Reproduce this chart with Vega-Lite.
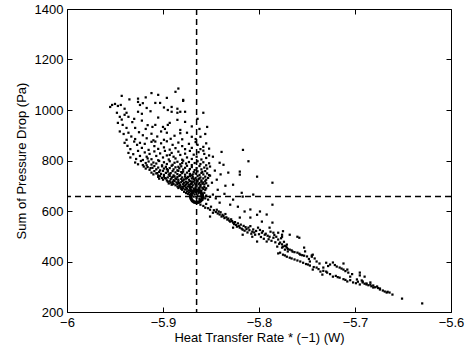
{
"$schema": "https://vega.github.io/schema/vega-lite/v6.json",
"width": 384, "height": 303,
"autosize": {"type": "none"},
"padding": {"left": 67, "top": 9, "right": 16, "bottom": 40},
"background": "white",
"config": {
  "view": {"stroke": "black", "strokeWidth": 1},
  "axis": {"domain": false, "grid": false, "tickSize": -5, "tickColor": "black", "tickWidth": 1,
    "labelColor": "black", "labelFont": "Liberation Sans", "labelFontSize": 13,
    "titleFont": "Liberation Sans", "titleFontSize": 13, "titleFontWeight": "normal", "titleColor": "black",
    "labelFlush": false, "labelPadding": 9, "labelOverlap": false}
},
"datasets": {
"pts": [
{"x":-5.943,"y":1056},{"x":-5.912,"y":1067},{"x":-5.905,"y":1060},{"x":-5.896,"y":1048},{"x":-5.887,"y":1072},{"x":-5.884,"y":1085},{"x":-5.926,"y":1045},{"x":-5.918,"y":1050},{"x":-5.879,"y":1040},{"x":-5.935,"y":1042},
{"x":-5.953,"y":1020},{"x":-5.950,"y":1024},{"x":-5.947,"y":1016},{"x":-5.944,"y":1020},{"x":-5.955,"y":1012},{"x":-5.926,"y":1032},{"x":-5.924,"y":1020},{"x":-5.921,"y":1027},{"x":-5.917,"y":1008},{"x":-5.908,"y":1028},{"x":-5.903,"y":1028},{"x":-5.899,"y":1010},{"x":-5.891,"y":1012},{"x":-5.879,"y":1036},{"x":-5.885,"y":1005},{"x":-5.940,"y":1005},
{"x":-5.948,"y":989},{"x":-5.940,"y":981},{"x":-5.938,"y":989},{"x":-5.945,"y":973},{"x":-5.936,"y":973},{"x":-5.943,"y":962},{"x":-5.926,"y":993},{"x":-5.922,"y":985},{"x":-5.913,"y":995},{"x":-5.895,"y":1000},{"x":-5.885,"y":989},{"x":-5.891,"y":993},{"x":-5.882,"y":993},{"x":-5.877,"y":993},{"x":-5.858,"y":989},{"x":-5.864,"y":965},{"x":-5.905,"y":970},{"x":-5.930,"y":965},
{"x":-5.947,"y":949},{"x":-5.942,"y":941},{"x":-5.938,"y":929},{"x":-5.932,"y":952},{"x":-5.929,"y":929},{"x":-5.922,"y":958},{"x":-5.916,"y":940},{"x":-5.911,"y":933},{"x":-5.908,"y":941},{"x":-5.900,"y":933},{"x":-5.898,"y":925},{"x":-5.893,"y":949},{"x":-5.885,"y":961},{"x":-5.877,"y":953},{"x":-5.882,"y":921},{"x":-5.895,"y":941},{"x":-5.870,"y":935},{"x":-5.862,"y":925},{"x":-5.854,"y":933},{"x":-5.918,"y":925},
{"x":-5.945,"y":915},{"x":-5.941,"y":905},{"x":-5.936,"y":910},{"x":-5.933,"y":895},{"x":-5.929,"y":885},{"x":-5.925,"y":912},{"x":-5.921,"y":900},{"x":-5.917,"y":888},{"x":-5.912,"y":906},{"x":-5.906,"y":895},{"x":-5.902,"y":915},{"x":-5.896,"y":910},{"x":-5.892,"y":886},{"x":-5.888,"y":898},{"x":-5.882,"y":908},{"x":-5.875,"y":910},{"x":-5.870,"y":894},{"x":-5.866,"y":885},{"x":-5.861,"y":894},{"x":-5.856,"y":905},{"x":-5.880,"y":884},{"x":-5.899,"y":882},{"x":-5.910,"y":880},{"x":-5.938,"y":882},
{"x":-5.940,"y":870},{"x":-5.937,"y":858},{"x":-5.934,"y":845},{"x":-5.930,"y":875},{"x":-5.927,"y":862},{"x":-5.924,"y":870},{"x":-5.922,"y":850},{"x":-5.919,"y":866},{"x":-5.915,"y":842},{"x":-5.912,"y":874},{"x":-5.909,"y":857},{"x":-5.905,"y":846},{"x":-5.902,"y":868},{"x":-5.899,"y":852},{"x":-5.896,"y":876},{"x":-5.893,"y":843},{"x":-5.890,"y":862},{"x":-5.887,"y":849},{"x":-5.884,"y":871},{"x":-5.880,"y":857},{"x":-5.877,"y":845},{"x":-5.873,"y":866},{"x":-5.870,"y":850},{"x":-5.866,"y":873},{"x":-5.864,"y":862},{"x":-5.861,"y":845},{"x":-5.858,"y":854},{"x":-5.855,"y":868},{"x":-5.852,"y":847},{"x":-5.908,"y":875},
{"x":-5.936,"y":830},{"x":-5.934,"y":812},{"x":-5.931,"y":825},{"x":-5.928,"y":806},{"x":-5.926,"y":838},{"x":-5.924,"y":818},{"x":-5.921,"y":802},{"x":-5.919,"y":832},{"x":-5.917,"y":815},{"x":-5.914,"y":826},{"x":-5.912,"y":805},{"x":-5.909,"y":836},{"x":-5.907,"y":818},{"x":-5.905,"y":801},{"x":-5.903,"y":828},{"x":-5.900,"y":812},{"x":-5.898,"y":838},{"x":-5.896,"y":820},{"x":-5.894,"y":804},{"x":-5.891,"y":830},{"x":-5.889,"y":815},{"x":-5.887,"y":808},{"x":-5.884,"y":835},{"x":-5.882,"y":822},{"x":-5.880,"y":803},{"x":-5.877,"y":827},{"x":-5.875,"y":812},{"x":-5.872,"y":838},{"x":-5.870,"y":806},{"x":-5.868,"y":823},{"x":-5.865,"y":815},{"x":-5.863,"y":833},{"x":-5.860,"y":804},{"x":-5.857,"y":826},{"x":-5.855,"y":810},{"x":-5.852,"y":820},{"x":-5.848,"y":815},{"x":-5.858,"y":839},{"x":-5.893,"y":822},{"x":-5.916,"y":808},
{"x":-5.8167,"y":842},{"x":-5.811,"y":797},{"x":-5.820,"y":756},{"x":-5.820,"y":744},{"x":-5.802,"y":736},{"x":-5.786,"y":712},{"x":-5.827,"y":704},{"x":-5.832,"y":752},{"x":-5.841,"y":791},{"x":-5.837,"y":783},{"x":-5.839,"y":834},{"x":-5.844,"y":724},{"x":-5.849,"y":712},{"x":-5.843,"y":684},{"x":-5.848,"y":665},{"x":-5.818,"y":672},{"x":-5.817,"y":657},{"x":-5.806,"y":665},{"x":-5.786,"y":625},{"x":-5.792,"y":586},{"x":-5.799,"y":598},{"x":-5.809,"y":606},{"x":-5.827,"y":645},{"x":-5.830,"y":625},{"x":-5.841,"y":633},{"x":-5.822,"y":617},{"x":-5.815,"y":598},{"x":-5.846,"y":760},{"x":-5.840,"y":745},{"x":-5.835,"y":700},{"x":-5.845,"y":650},{"x":-5.836,"y":668},{"x":-5.851,"y":740},{"x":-5.853,"y":700},
{"x":-5.929,"y":792},{"x":-5.926,"y":785},{"x":-5.923,"y":798},{"x":-5.921,"y":782},{"x":-5.918,"y":790},{"x":-5.915,"y":796},{"x":-5.912,"y":784},{"x":-5.910,"y":792},{"x":-5.907,"y":788},{"x":-5.904,"y":798},{"x":-5.901,"y":781},{"x":-5.899,"y":793},{"x":-5.896,"y":786},{"x":-5.893,"y":797},{"x":-5.890,"y":783},{"x":-5.888,"y":791},{"x":-5.885,"y":795},{"x":-5.882,"y":785},{"x":-5.879,"y":799},{"x":-5.876,"y":788},{"x":-5.873,"y":794},{"x":-5.870,"y":782},{"x":-5.867,"y":790},{"x":-5.864,"y":797},{"x":-5.861,"y":786},{"x":-5.858,"y":793},{"x":-5.855,"y":781},{"x":-5.852,"y":789},{"x":-5.917,"y":781},{"x":-5.880,"y":790},
{"x":-5.920,"y":776},{"x":-5.918,"y":768},{"x":-5.916,"y":774},{"x":-5.914,"y":763},{"x":-5.911,"y":771},{"x":-5.909,"y":778},{"x":-5.907,"y":765},{"x":-5.905,"y":772},{"x":-5.903,"y":761},{"x":-5.901,"y":777},{"x":-5.899,"y":768},{"x":-5.897,"y":775},{"x":-5.895,"y":762},{"x":-5.893,"y":770},{"x":-5.891,"y":779},{"x":-5.889,"y":765},{"x":-5.887,"y":773},{"x":-5.885,"y":761},{"x":-5.883,"y":769},{"x":-5.881,"y":777},{"x":-5.879,"y":764},{"x":-5.877,"y":771},{"x":-5.875,"y":779},{"x":-5.872,"y":766},{"x":-5.870,"y":774},{"x":-5.867,"y":762},{"x":-5.865,"y":770},{"x":-5.862,"y":778},{"x":-5.860,"y":765},{"x":-5.857,"y":772},{"x":-5.854,"y":768},{"x":-5.851,"y":776},{"x":-5.913,"y":770},{"x":-5.896,"y":766},{"x":-5.884,"y":775},
{"x":-5.912,"y":752},{"x":-5.910,"y":745},{"x":-5.909,"y":758},{"x":-5.907,"y":749},{"x":-5.905,"y":741},{"x":-5.904,"y":755},{"x":-5.902,"y":747},{"x":-5.900,"y":759},{"x":-5.899,"y":743},{"x":-5.897,"y":751},{"x":-5.895,"y":756},{"x":-5.894,"y":744},{"x":-5.892,"y":750},{"x":-5.890,"y":758},{"x":-5.889,"y":741},{"x":-5.887,"y":753},{"x":-5.885,"y":746},{"x":-5.884,"y":759},{"x":-5.882,"y":742},{"x":-5.880,"y":750},{"x":-5.879,"y":756},{"x":-5.877,"y":744},{"x":-5.875,"y":752},{"x":-5.873,"y":759},{"x":-5.872,"y":747},{"x":-5.870,"y":741},{"x":-5.868,"y":754},{"x":-5.866,"y":748},{"x":-5.864,"y":757},{"x":-5.862,"y":743},{"x":-5.860,"y":751},{"x":-5.858,"y":745},{"x":-5.856,"y":758},{"x":-5.854,"y":749},{"x":-5.852,"y":742},{"x":-5.906,"y":750},{"x":-5.893,"y":747},{"x":-5.881,"y":754},{"x":-5.869,"y":745},{"x":-5.859,"y":755},
{"x":-5.905,"y":735},{"x":-5.904,"y":728},{"x":-5.903,"y":738},{"x":-5.901,"y":731},{"x":-5.900,"y":724},{"x":-5.899,"y":736},{"x":-5.897,"y":729},{"x":-5.896,"y":721},{"x":-5.895,"y":733},{"x":-5.893,"y":739},{"x":-5.892,"y":726},{"x":-5.891,"y":732},{"x":-5.889,"y":722},{"x":-5.888,"y":737},{"x":-5.887,"y":729},{"x":-5.885,"y":734},{"x":-5.884,"y":724},{"x":-5.883,"y":739},{"x":-5.881,"y":727},{"x":-5.880,"y":733},{"x":-5.879,"y":721},{"x":-5.877,"y":736},{"x":-5.876,"y":728},{"x":-5.875,"y":731},{"x":-5.873,"y":724},{"x":-5.872,"y":738},{"x":-5.870,"y":729},{"x":-5.869,"y":735},{"x":-5.867,"y":722},{"x":-5.866,"y":731},{"x":-5.864,"y":738},{"x":-5.863,"y":726},{"x":-5.861,"y":733},{"x":-5.860,"y":721},{"x":-5.858,"y":729},{"x":-5.856,"y":736},{"x":-5.855,"y":724},{"x":-5.853,"y":731},{"x":-5.898,"y":730},{"x":-5.886,"y":726},{"x":-5.874,"y":735},{"x":-5.862,"y":729},{"x":-5.890,"y":735},{"x":-5.878,"y":725},{"x":-5.868,"y":727},
{"x":-5.895,"y":716},{"x":-5.894,"y":709},{"x":-5.893,"y":718},{"x":-5.892,"y":712},{"x":-5.891,"y":704},{"x":-5.890,"y":715},{"x":-5.889,"y":708},{"x":-5.888,"y":719},{"x":-5.887,"y":702},{"x":-5.886,"y":713},{"x":-5.885,"y":707},{"x":-5.884,"y":717},{"x":-5.883,"y":710},{"x":-5.882,"y":703},{"x":-5.881,"y":714},{"x":-5.880,"y":719},{"x":-5.879,"y":706},{"x":-5.878,"y":712},{"x":-5.877,"y":701},{"x":-5.876,"y":716},{"x":-5.875,"y":709},{"x":-5.874,"y":713},{"x":-5.873,"y":704},{"x":-5.872,"y":718},{"x":-5.871,"y":707},{"x":-5.870,"y":711},{"x":-5.869,"y":702},{"x":-5.868,"y":716},{"x":-5.867,"y":709},{"x":-5.866,"y":704},{"x":-5.865,"y":714},{"x":-5.864,"y":719},{"x":-5.863,"y":706},{"x":-5.862,"y":711},{"x":-5.861,"y":703},{"x":-5.860,"y":716},{"x":-5.859,"y":708},{"x":-5.858,"y":713},{"x":-5.857,"y":705},{"x":-5.856,"y":718},{"x":-5.855,"y":710},{"x":-5.890,"y":706},{"x":-5.884,"y":711},{"x":-5.876,"y":705},{"x":-5.870,"y":717},
{"x":-5.885,"y":697},{"x":-5.884,"y":691},{"x":-5.883,"y":699},{"x":-5.882,"y":694},{"x":-5.881,"y":688},{"x":-5.880,"y":696},{"x":-5.879,"y":690},{"x":-5.878,"y":698},{"x":-5.877,"y":685},{"x":-5.876,"y":693},{"x":-5.875,"y":688},{"x":-5.874,"y":697},{"x":-5.873,"y":682},{"x":-5.872,"y":691},{"x":-5.871,"y":686},{"x":-5.870,"y":695},{"x":-5.869,"y":681},{"x":-5.868,"y":689},{"x":-5.867,"y":684},{"x":-5.866,"y":694},{"x":-5.865,"y":699},{"x":-5.864,"y":683},{"x":-5.863,"y":690},{"x":-5.862,"y":686},{"x":-5.861,"y":697},{"x":-5.860,"y":681},{"x":-5.859,"y":692},{"x":-5.858,"y":687},{"x":-5.857,"y":695},{"x":-5.856,"y":684},{"x":-5.855,"y":690},{"x":-5.880,"y":684},{"x":-5.872,"y":698},{"x":-5.866,"y":688},{"x":-5.862,"y":693},
{"x":-5.878,"y":676},{"x":-5.876,"y":671},{"x":-5.875,"y":678},{"x":-5.874,"y":668},{"x":-5.873,"y":674},{"x":-5.872,"y":664},{"x":-5.871,"y":679},{"x":-5.870,"y":661},{"x":-5.869,"y":670},{"x":-5.868,"y":657},{"x":-5.867,"y":666},{"x":-5.866,"y":675},{"x":-5.865,"y":652},{"x":-5.864,"y":662},{"x":-5.863,"y":671},{"x":-5.862,"y":648},{"x":-5.861,"y":658},{"x":-5.860,"y":666},{"x":-5.859,"y":644},{"x":-5.858,"y":655},{"x":-5.857,"y":672},{"x":-5.856,"y":650},{"x":-5.855,"y":661},{"x":-5.853,"y":645},{"x":-5.851,"y":656},
{"x":-5.861,"y":625},{"x":-5.856,"y":613},{"x":-5.851,"y":605},{"x":-5.848,"y":593},{"x":-5.844,"y":605},{"x":-5.842,"y":598},{"x":-5.839,"y":578},{"x":-5.833,"y":566},{"x":-5.830,"y":558},{"x":-5.827,"y":554},{"x":-5.823,"y":538},{"x":-5.820,"y":534},{"x":-5.817,"y":526},{"x":-5.811,"y":534},{"x":-5.807,"y":518},{"x":-5.804,"y":506},{"x":-5.801,"y":534},{"x":-5.797,"y":514},{"x":-5.794,"y":506},{"x":-5.789,"y":498},{"x":-5.785,"y":494},{"x":-5.780,"y":487},{"x":-5.802,"y":479},{"x":-5.792,"y":479},{"x":-5.781,"y":459},{"x":-5.776,"y":455},{"x":-5.773,"y":447},{"x":-5.771,"y":467},{"x":-5.851,"y":578},{"x":-5.838,"y":585},{"x":-5.820,"y":574},{"x":-5.809,"y":574},{"x":-5.802,"y":585},{"x":-5.789,"y":534},{"x":-5.780,"y":514},{"x":-5.776,"y":506},{"x":-5.786,"y":554},{"x":-5.797,"y":558},{"x":-5.827,"y":534},{"x":-5.817,"y":506},{"x":-5.807,"y":498},
{"x":-5.858,"y":620},{"x":-5.855,"y":628},{"x":-5.853,"y":611},{"x":-5.850,"y":617},{"x":-5.847,"y":603},{"x":-5.845,"y":596},{"x":-5.843,"y":590},{"x":-5.841,"y":586},{"x":-5.840,"y":595},{"x":-5.837,"y":580},{"x":-5.836,"y":572},{"x":-5.835,"y":588},{"x":-5.834,"y":575},{"x":-5.832,"y":570},{"x":-5.831,"y":562},{"x":-5.829,"y":567},{"x":-5.828,"y":560},{"x":-5.826,"y":548},{"x":-5.825,"y":556},{"x":-5.824,"y":545},{"x":-5.822,"y":551},{"x":-5.821,"y":540},{"x":-5.819,"y":546},{"x":-5.818,"y":530},{"x":-5.816,"y":541},{"x":-5.815,"y":522},{"x":-5.814,"y":536},{"x":-5.813,"y":528},{"x":-5.812,"y":515},{"x":-5.810,"y":524},{"x":-5.809,"y":540},{"x":-5.808,"y":510},{"x":-5.806,"y":527},{"x":-5.805,"y":515},{"x":-5.803,"y":521},{"x":-5.800,"y":508},{"x":-5.799,"y":525},{"x":-5.798,"y":497},{"x":-5.796,"y":520},{"x":-5.795,"y":490},{"x":-5.793,"y":510},{"x":-5.791,"y":502},{"x":-5.790,"y":488},{"x":-5.788,"y":518},{"x":-5.787,"y":482},{"x":-5.784,"y":505},{"x":-5.783,"y":476},{"x":-5.782,"y":498},{"x":-5.779,"y":470},{"x":-5.777,"y":492},{"x":-5.774,"y":478},{"x":-5.772,"y":460},{"x":-5.770,"y":440},
{"x":-5.778,"y":475},{"x":-5.775,"y":459},{"x":-5.771,"y":455},{"x":-5.768,"y":447},{"x":-5.765,"y":439},{"x":-5.760,"y":435},{"x":-5.757,"y":427},{"x":-5.753,"y":423},{"x":-5.776,"y":468},{"x":-5.773,"y":462},{"x":-5.770,"y":450},{"x":-5.766,"y":444},{"x":-5.763,"y":437},{"x":-5.758,"y":431},{"x":-5.755,"y":425},{"x":-5.750,"y":420},{"x":-5.776,"y":498},{"x":-5.768,"y":506},{"x":-5.760,"y":498},{"x":-5.753,"y":455},{"x":-5.744,"y":427},{"x":-5.747,"y":400},{"x":-5.749,"y":388},{"x":-5.745,"y":419},{"x":-5.742,"y":412},{"x":-5.748,"y":410},
{"x":-5.778,"y":435},{"x":-5.775,"y":427},{"x":-5.771,"y":419},{"x":-5.768,"y":415},{"x":-5.763,"y":408},{"x":-5.757,"y":400},{"x":-5.754,"y":395},{"x":-5.751,"y":390},{"x":-5.747,"y":384},{"x":-5.743,"y":378},{"x":-5.740,"y":376},{"x":-5.738,"y":370},{"x":-5.736,"y":360},{"x":-5.733,"y":363},{"x":-5.729,"y":356},{"x":-5.726,"y":350},{"x":-5.723,"y":340},{"x":-5.720,"y":343},{"x":-5.716,"y":336},{"x":-5.712,"y":330},{"x":-5.708,"y":321},{"x":-5.705,"y":326},{"x":-5.702,"y":317},{"x":-5.699,"y":314},{"x":-5.695,"y":309},{"x":-5.780,"y":432},{"x":-5.773,"y":424},{"x":-5.766,"y":412},{"x":-5.760,"y":404},{"x":-5.730,"y":360},{"x":-5.718,"y":338},{"x":-5.710,"y":327},
{"x":-5.726,"y":388},{"x":-5.723,"y":396},{"x":-5.719,"y":380},{"x":-5.716,"y":376},{"x":-5.712,"y":368},{"x":-5.708,"y":368},{"x":-5.707,"y":356},{"x":-5.705,"y":340},{"x":-5.733,"y":376},{"x":-5.734,"y":348},{"x":-5.744,"y":368},{"x":-5.695,"y":356},{"x":-5.698,"y":329},{"x":-5.692,"y":321},{"x":-5.684,"y":317},{"x":-5.721,"y":386},{"x":-5.714,"y":372},{"x":-5.710,"y":362},{"x":-5.703,"y":350},{"x":-5.728,"y":382},
{"x":-5.758,"y":494},{"x":-5.775,"y":520},{"x":-5.785,"y":514},{"x":-5.745,"y":424},{"x":-5.695,"y":345},{"x":-5.737,"y":392},{"x":-5.752,"y":440},{"x":-5.740,"y":400},{"x":-5.730,"y":395},{"x":-5.712,"y":392},{"x":-5.690,"y":340},
{"x":-5.692,"y":317},{"x":-5.688,"y":313},{"x":-5.684,"y":309},{"x":-5.681,"y":305},{"x":-5.677,"y":301},{"x":-5.674,"y":293},{"x":-5.671,"y":285},{"x":-5.667,"y":277},{"x":-5.664,"y":277},{"x":-5.661,"y":269},{"x":-5.651,"y":253},{"x":-5.630,"y":234},{"x":-5.688,"y":309},{"x":-5.681,"y":297},{"x":-5.674,"y":289},{"x":-5.679,"y":298},{"x":-5.676,"y":295},{"x":-5.669,"y":281},{"x":-5.666,"y":280},{"x":-5.690,"y":312},{"x":-5.686,"y":306},{"x":-5.683,"y":302},{"x":-5.697,"y":320},{"x":-5.693,"y":325}
],
"best": [{"x": -5.865, "y": 657}]
},
"layer": [
  {"data": {"name": "pts"},
   "mark": {"type": "point", "shape": "square", "filled": true, "size": 5, "color": "black", "opacity": 1},
   "encoding": {
     "x": {"field": "x", "type": "quantitative", "scale": {"domain": [-6, -5.6], "nice": false, "zero": false},
           "axis": {"values": [-6, -5.9, -5.8, -5.7, -5.6], "format": ".1~f", "title": "Heat Transfer Rate * (−1) (W)", "titlePadding": 2}},
     "y": {"field": "y", "type": "quantitative", "scale": {"domain": [200, 1400], "nice": false, "zero": false},
           "axis": {"values": [200, 400, 600, 800, 1000, 1200, 1400], "format": "d", "title": "Sum of Pressure Drop (Pa)", "titlePadding": 6}}
   }},
  {"data": {"name": "best"},
   "mark": {"type": "rule", "strokeDash": [6, 4], "strokeWidth": 1.5, "color": "black"},
   "encoding": {"x": {"field": "x", "type": "quantitative", "axis": {"orient": "top", "labels": false, "title": null, "values": [-6, -5.9, -5.8, -5.7, -5.6]}}}},
  {"data": {"name": "best"},
   "mark": {"type": "rule", "strokeDash": [6, 4], "strokeWidth": 1.5, "color": "black"},
   "encoding": {"y": {"field": "y", "type": "quantitative", "axis": {"orient": "right", "labels": false, "title": null, "values": [200, 400, 600, 800, 1000, 1200, 1400]}}}},
  {"data": {"name": "best"},
   "mark": {"type": "point", "shape": "circle", "filled": false, "size": 144, "strokeWidth": 3.5, "color": "black", "opacity": 1},
   "encoding": {"x": {"field": "x", "type": "quantitative", "axis": null}, "y": {"field": "y", "type": "quantitative", "axis": null}}}
],
"resolve": {"axis": {"x": "independent", "y": "independent"}}
}
